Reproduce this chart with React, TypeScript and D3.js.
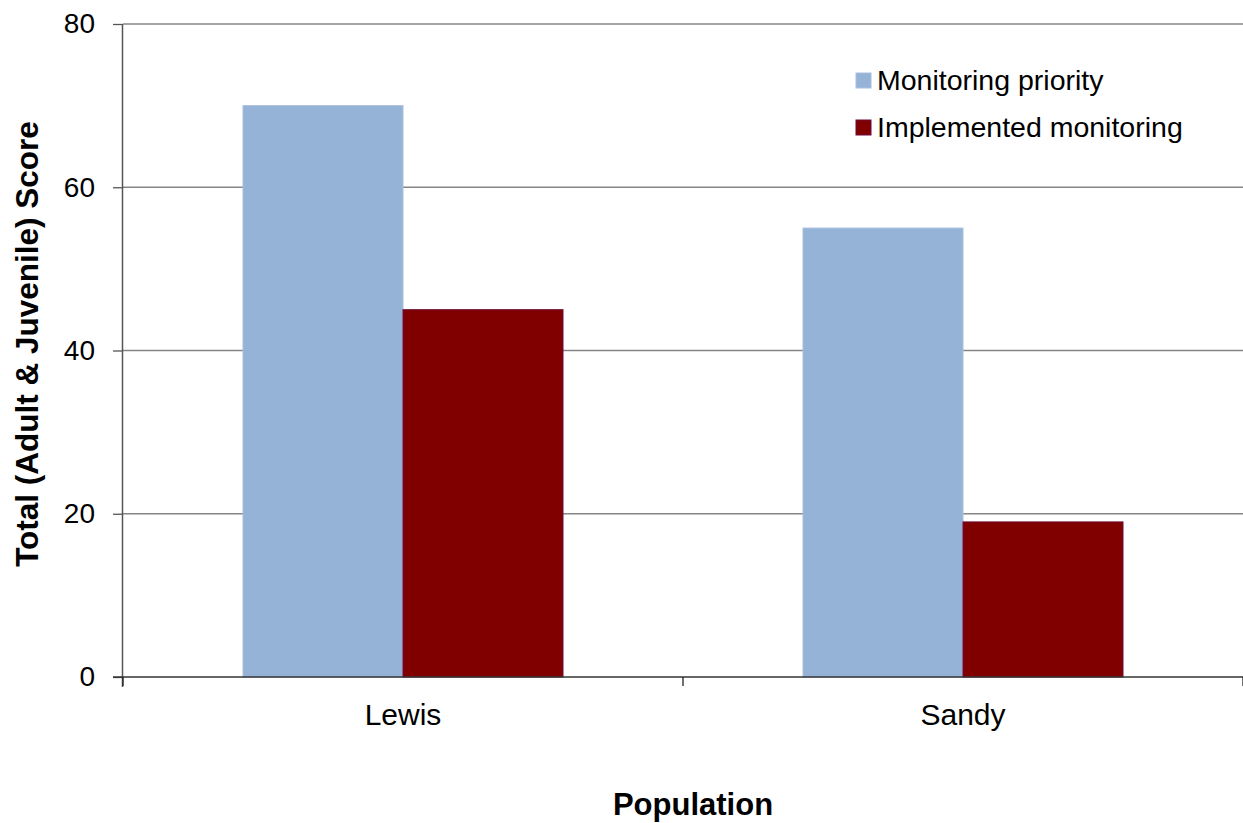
import React, { useEffect, useRef } from 'react'
import * as d3 from 'd3'

const categories = ['Lewis', 'Sandy']
const seriesNames = ['Monitoring priority', 'Implemented monitoring']
const priorityValues = [70, 55]
const implementedValues = [45, 19]
const yTicks = [0, 20, 40, 60, 80]

const colors = ['#95b3d7', '#800000']
const strokes = ['#a9c0dd', '#6e0a3c']

const App: React.FC = () => {
  const ref = useRef<SVGSVGElement>(null)

  useEffect(() => {
    const width = 1243
    const height = 823
    const margin = { top: 24, right: 0, bottom: 146, left: 123 }
    const innerW = width - margin.left - margin.right
    const innerH = height - margin.top - margin.bottom
    const font = '"Liberation Sans", Arial, sans-serif'

    const svg = d3.select(ref.current)
    svg.selectAll('*').remove()
    svg.attr('width', width).attr('height', height)

    const g = svg.append('g').attr('transform', `translate(${margin.left},${margin.top})`)

    const x = d3.scaleBand().domain(categories).range([0, innerW]).paddingInner(0).paddingOuter(0)
    // bars take the middle 4/7 of each category band
    const bw = x.bandwidth()
    const xSub = d3.scaleBand().domain(seriesNames).range([bw * 3 / 14, bw * 11 / 14]).padding(0)
    const y = d3.scaleLinear().domain([0, 80]).range([innerH, 0])

    // gridlines
    g.selectAll('line.grid')
      .data(yTicks.filter((t) => t > 0))
      .enter()
      .append('line')
      .attr('x1', 0)
      .attr('x2', innerW)
      .attr('y1', (d) => y(d))
      .attr('y2', (d) => y(d))
      .attr('stroke', '#868686')
      .attr('stroke-width', 1.3)

    const data = categories.map((c, i) => ({
      cat: c,
      vals: [priorityValues[i], implementedValues[i]],
    }))

    const groups = g
      .selectAll('g.cat')
      .data(data)
      .enter()
      .append('g')
      .attr('transform', (d) => `translate(${x(d.cat)},0)`)

    groups
      .selectAll('rect')
      .data((d) => d.vals.map((v, i) => ({ v, s: seriesNames[i], i })))
      .enter()
      .append('rect')
      .attr('x', (d) => xSub(d.s)!)
      .attr('y', (d) => y(d.v))
      .attr('width', xSub.bandwidth())
      .attr('height', (d) => innerH - y(d.v))
      .attr('fill', (d) => colors[d.i])
      .attr('stroke', (d) => strokes[d.i])
      .attr('stroke-width', 1)

    // y axis
    const yAxis = g.append('g').call(d3.axisLeft(y).tickValues(yTicks).tickSize(10).tickPadding(18))
    yAxis.select('.domain').attr('stroke', '#555').attr('stroke-width', 1.5).attr('d', `M-0.5,0V${innerH + 10}`)
    yAxis.selectAll('.tick line').attr('stroke', '#555').attr('stroke-width', 1.3)
    yAxis.selectAll('.tick text').attr('font-family', font).attr('font-size', 28).attr('fill', '#000')

    // x axis
    const xAxisG = g.append('g').attr('transform', `translate(0,${innerH})`)
    xAxisG
      .append('line')
      .attr('x1', -10)
      .attr('x2', innerW)
      .attr('y1', 0)
      .attr('y2', 0)
      .attr('stroke', '#333')
      .attr('stroke-width', 1.5)
    xAxisG
      .selectAll('line.xt')
      .data([...categories.map((c) => x(c)!), innerW / 2 + x.bandwidth()])
      .enter()
      .append('line')
      .attr('x1', (d) => d)
      .attr('x2', (d) => d)
      .attr('y1', 0)
      .attr('y2', 9)
      .attr('stroke', '#222')
      .attr('stroke-width', 1.3)
    xAxisG
      .selectAll('text')
      .data(categories)
      .enter()
      .append('text')
      .attr('x', (d) => x(d)! + x.bandwidth() / 2)
      .attr('y', 48)
      .attr('text-anchor', 'middle')
      .attr('font-family', font)
      .attr('font-size', 30)
      .text((d) => d)

    // axis titles
    svg
      .append('text')
      .attr('x', 693)
      .attr('y', 815)
      .attr('text-anchor', 'middle')
      .attr('font-family', font)
      .attr('font-weight', 'bold')
      .attr('font-size', 31)
      .text('Population')

    svg
      .append('text')
      .attr('transform', `translate(38,344) rotate(-90)`)
      .attr('text-anchor', 'middle')
      .attr('font-family', font)
      .attr('font-weight', 'bold')
      .attr('font-size', 31.5)
      .text('Total (Adult & Juvenile) Score')

    // legend
    const legend = svg.append('g').attr('transform', 'translate(856,73)')
    const items = legend
      .selectAll('g')
      .data(seriesNames)
      .enter()
      .append('g')
      .attr('transform', (_, i) => `translate(0,${i * 47})`)
    items
      .append('rect')
      .attr('width', 15)
      .attr('height', 15)
      .attr('fill', (_, i) => colors[i])
      .attr('stroke', (_, i) => strokes[i])
    items
      .append('text')
      .attr('x', 21)
      .attr('y', 17)
      .attr('font-family', font)
      .attr('font-size', 28.5)
      .text((d) => d)
  }, [])

  return <svg ref={ref} style={{ position: 'absolute', left: 0, top: 0 }} />
}

export default App
